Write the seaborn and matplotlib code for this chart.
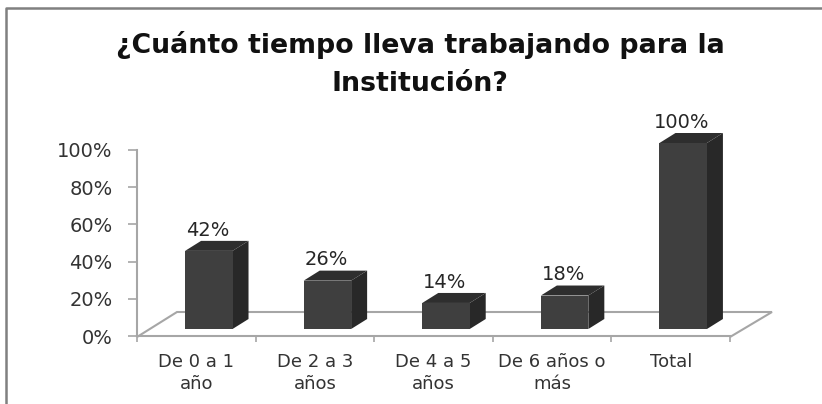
import matplotlib as mpl
import matplotlib.pyplot as plt
import matplotlib.patches as mpatches
from matplotlib.lines import Line2D
import pandas as pd
import seaborn as sns
mpl.use('Agg')

categories = ['De 0 a 1\naño', 'De 2 a 3\naños', 'De 4 a 5\naños', 'De 6 años o\nmás', 'Total']
values = [42, 26, 14, 18, 100]
y_ticks = [0, 20, 40, 60, 80, 100]
title = '¿Cuánto tiempo lleva trabajando para la\nInstitución?'

W, H = 822, 404
GRID = '#a6a6a6'
TEXT = '#333333'

sns.set_theme(style='white')
plt.rcParams['font.family'] = ['DejaVu Sans']

df = pd.DataFrame({'cat': categories, 'val': values})


def px_axes(fig, x0, y_top, x1, y_bot):
  return fig.add_axes([x0 / W, 1 - y_bot / H, (x1 - x0) / W, (y_bot - y_top) / H])


fig = plt.figure(figsize=(W / 100, H / 100), dpi=100, facecolor='white')

# outer chart frame, only top and left are inside the crop
fig.add_artist(Line2D([5.5 / W, 5.5 / W, 1], [0, 1 - 7.5 / H, 1 - 7.5 / H], transform=fig.transFigure,
                      color='#808080', linewidth=1.8, zorder=-1))

# axis box with the ticks and labels
ax = px_axes(fig, 137, 150, 730, 336)
ax.patch.set_alpha(0)
ax.set_xlim(-0.5, 4.5)
ax.set_ylim(0, 100)
ax.set_yticks(y_ticks)
ax.set_yticklabels([f'{v}%' for v in y_ticks], fontsize=14, color=TEXT)
ax.set_xticks([-0.5, 0.5, 1.5, 2.5, 3.5, 4.5])
ax.set_xticklabels([])
ax.set_xticks(range(5), categories, minor=True, fontsize=13, color=TEXT, linespacing=1.3)
ax.tick_params(axis='x', which='major', length=4, width=1.2, color=GRID, bottom=True)
ax.tick_params(axis='x', which='minor', length=0, pad=12)
ax.tick_params(axis='y', length=6.5, width=1.2, color=GRID, left=True, pad=11)
for s in ['top', 'right']:
  ax.spines[s].set_visible(False)
for s in ['left', 'bottom']:
  ax.spines[s].set_color(GRID)
  ax.spines[s].set_linewidth(1.5)

# floor of the 3d plot, in pixels
floor = mpatches.Polygon([(137 / W, 1 - 337 / H), (177 / W, 1 - 312 / H), (772 / W, 1 - 312 / H), (730 / W, 1 - 337 / H)],
                         closed=False, fill=False, edgecolor=GRID, linewidth=1.5, transform=fig.transFigure, zorder=-1)
fig.add_artist(floor)

# bars sit on a copy of the axis, moved to the floor
ax_bar = px_axes(fig, 137 + 12.5, 143, 730 + 12.5, 329)
ax_bar.set_zorder(5)
ax_bar.patch.set_alpha(0)
ax_bar.axis('off')
sns.barplot(data=df, x='cat', y='val', ax=ax_bar, color='#3f3f3f', saturation=1, width=0.4,
            edgecolor='none', linewidth=0, zorder=3)
ax_bar.set_xlim(-0.5, 4.5)
ax_bar.set_ylim(0, 100)

DX, DY = 16, 10
for bar, val in zip(list(ax_bar.patches), values):
  x0 = bar.get_x()
  x1 = x0 + bar.get_width()
  # corners of the side and top face
  side = [ax_bar.transData.transform(p) for p in [(x1, 0), (x1, val)]]
  top = [ax_bar.transData.transform(p) for p in [(x0, val), (x1, val)]]
  side_pts = [side[0], side[1], side[1] + (DX, DY), side[0] + (DX, DY)]
  top_pts = [top[0], top[1], top[1] + (DX, DY), top[0] + (DX, DY)]
  ax_bar.add_patch(mpatches.Polygon(side_pts, transform=None, facecolor='#282828', edgecolor='none', zorder=2, clip_on=False))
  ax_bar.add_patch(mpatches.Polygon(top_pts, transform=None, facecolor='#2e2e2e', edgecolor='none', zorder=2, clip_on=False))
  ax_bar.annotate(f'{val}%', (x0 + bar.get_width() / 2, val), xytext=(-1, 15), textcoords='offset points',
                  ha='center', va='center', fontsize=14, color='#262626', annotation_clip=False)

fig.text(420 / W, 1 - 64 / H, title, ha='center', va='center', fontsize=19.3, fontweight='bold',
         color='#111111', linespacing=1.6)

fig.savefig('out.png', dpi=100)
plt.close(fig)
